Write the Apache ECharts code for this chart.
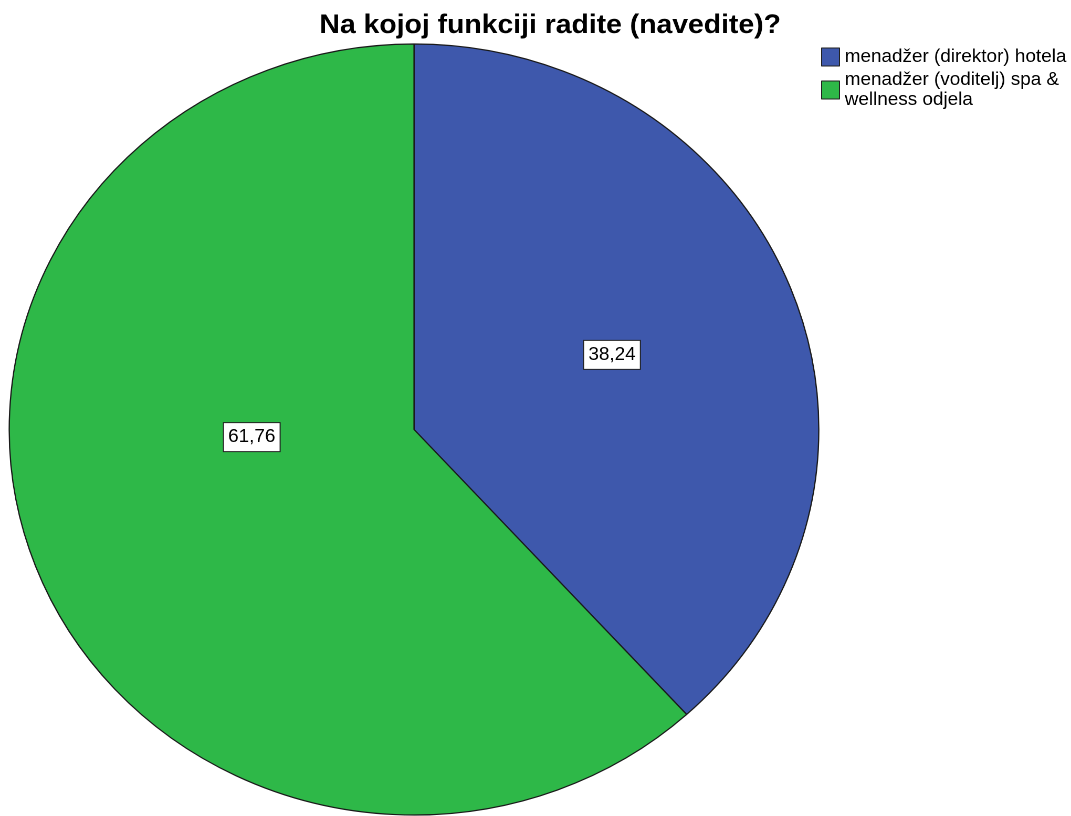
<!DOCTYPE html>
<html>
<head>
<meta charset="utf-8">
<script src="https://cdn.jsdelivr.net/npm/echarts@6/dist/echarts.min.js"></script>
<style>
html,body{margin:0;padding:0;background:#fff;overflow:hidden;}
#wrap{width:1071px;height:816px;overflow:hidden;}
#chart{width:1020px;height:816px;transform:scaleX(1.05);transform-origin:0 0;}
</style>
</head>
<body>
<div id="wrap"><div id="chart"></div></div>
<script>
const titleText = 'Na kojoj funkciji radite (navedite)?';
const categories = ['menadžer (direktor) hotela', 'menadžer (voditelj) spa &\nwellness odjela'];
const values = [38.24, 61.76];
const colors = ['#3E58AC', '#2EB848'];
const labelOffsets = [[6, -4], [28, -63]];

const chart = echarts.init(document.getElementById('chart'), null, {renderer: 'canvas', devicePixelRatio: 2});
const font = 'Arial, "Liberation Sans", sans-serif';
chart.setOption({
  animation: false,
  backgroundColor: '#ffffff',
  title: {
    text: titleText,
    left: 519, top: 7, textAlign: 'center',
    textStyle: {fontFamily: font, fontSize: 27, fontWeight: 'bold', color: '#000'}
  },
  legend: {
    orient: 'vertical',
    left: 782, top: 47, padding: 0,
    itemWidth: 17, itemHeight: 18, itemGap: 3,
    icon: 'rect',
    itemStyle: {borderColor: '#222', borderWidth: 1},
    textStyle: {fontFamily: font, fontSize: 18, color: '#000', lineHeight: 20},
    data: categories
  },
  series: [{
    type: 'pie',
    center: [394.3, 429.5],
    radius: 385.5,
    startAngle: 90,
    clockwise: true,
    silent: true,
    itemStyle: {borderColor: '#1a1a1a', borderWidth: 1.2},
    label: {
      show: true, position: 'inside',
      fontFamily: font, fontSize: 18, color: '#000',
      backgroundColor: '#fff', borderColor: '#222', borderWidth: 1,
      padding: [5, 4, 5, 4],
      formatter: p => p.value.toFixed(2).replace('.', ',')
    },
    labelLine: {show: false},
    data: categories.map((c, i) => ({
      name: c, value: values[i],
      itemStyle: {color: colors[i]},
      label: {offset: labelOffsets[i]}
    }))
  }]
});
</script>
</body>
</html>
